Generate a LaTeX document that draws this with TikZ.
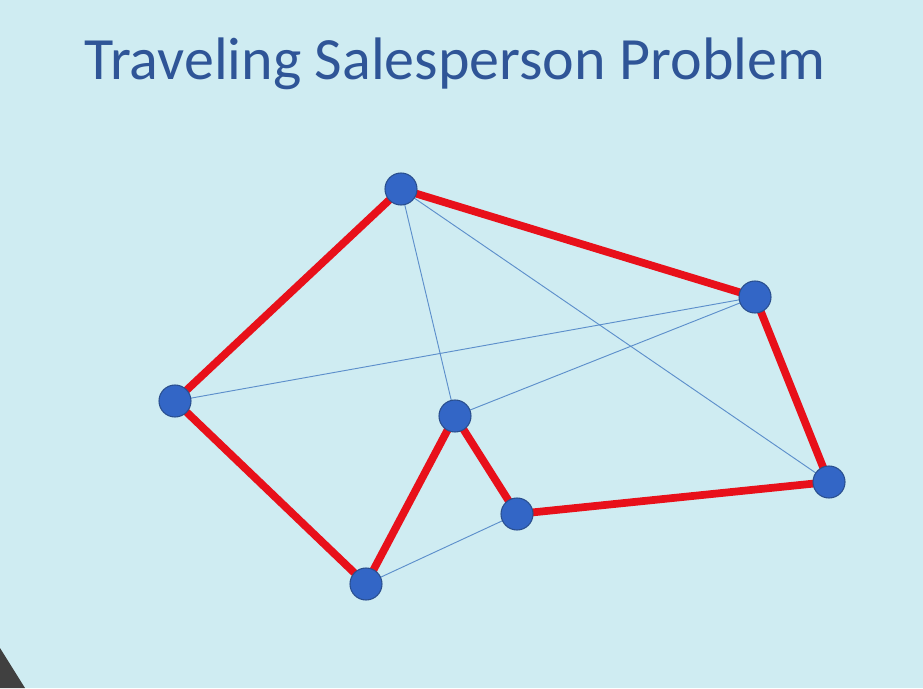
\documentclass[tikz,border=0pt]{standalone}
\usepackage{fontspec}
\setmainfont{Carlito}
\usepackage{tikz}
\usetikzlibrary{positioning}
\definecolor{slidebg}{HTML}{CFECF2}
\definecolor{titleblue}{HTML}{2F5597}
\definecolor{vertexblue}{HTML}{3366C6}
\definecolor{vertexrim}{HTML}{2A4F8F}
\definecolor{tourred}{HTML}{E8101A}
\definecolor{edgeblue}{HTML}{5D8FCB}
\pgfdeclarelayer{paper}
\pgfdeclarelayer{edges}
\pgfsetlayers{paper,edges,main}
\tikzset{
  vertex/.style={shape=circle,fill=vertexblue,draw=vertexrim,line width=0.8pt,minimum size=24pt,inner sep=0},
  tour/.style={draw=tourred,line width=5.8pt},
  chord/.style={draw=edgeblue,line width=0.7pt}
}

\begin{document}
\begin{tikzpicture}[x=0.75pt,y=-0.75pt]
      \begin{pgfonlayer}{paper}
        \fill[slidebg] (0,0) rectangle (923,688);
        \fill[black!75] (0,648) -- (25,688) -- (0,688) -- cycle;
      \end{pgfonlayer}
      \useasboundingbox (0,0) rectangle (923,688);
      \node[anchor=base,text=titleblue,font=\fontsize{45}{54}\selectfont] (title) at (455,80) {Traveling Salesperson Problem};
      \node[vertex] (v1) at (401,189) {};
      \node[vertex] (v2) at (755,297) {};
      \node[vertex] (v3) at (175,401) {};
      \node[vertex] (v4) at (455,416) {};
      \node[vertex] (v5) at (517,514) {};
      \node[vertex] (v6) at (829,482) {};
      \node[vertex] (v7) at (366,584) {};
      \begin{pgfonlayer}{edges}
        \draw[chord] (v1.center) -- (v4.center);
        \draw[chord] (v1.center) -- (v6.center);
        \draw[chord] (v3.center) -- (v2.center);
        \draw[chord] (v4.center) -- (v2.center);
        \draw[chord] (v7.center) -- (v5.center);
        \draw[tour] (v3.center) -- (v1.center) -- (v2.center) -- (v6.center)
          -- (v5.center) -- (v4.center) -- (v7.center) -- cycle;
      \end{pgfonlayer}
    \end{tikzpicture}
\end{document}
